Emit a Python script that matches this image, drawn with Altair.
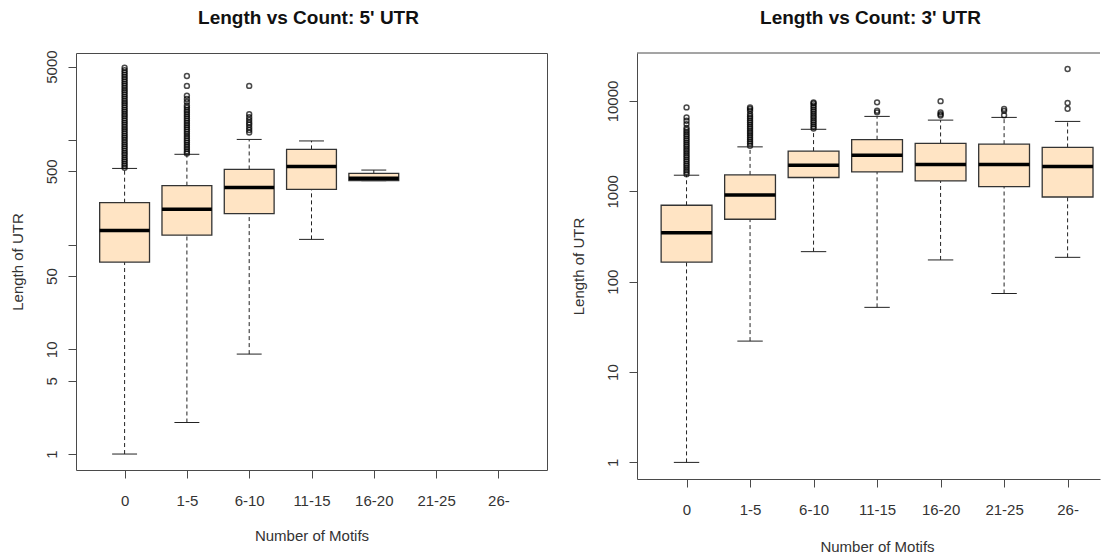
import altair as alt
import pandas as pd

categories = ["0", "1-5", "6-10", "11-15", "16-20", "21-25", "26-"]

# ---- 5' UTR box statistics ----
utr5_groups = ["0", "1-5", "6-10", "11-15", "16-20"]
utr5_lower = [1, 2, 9, 112, 407]
utr5_q1 = [68, 123, 197, 336, 407]
utr5_median = [136, 217, 351, 557, 430]
utr5_q3 = [251, 365, 521, 810, 477]
utr5_upper = [533, 727, 1008, 975, 514]

utr5_out_0 = [540, 565, 590, 620, 650, 680, 715, 750, 785, 825, 865, 905, 950, 995,
              1045, 1095, 1150, 1205, 1265, 1325, 1390, 1460, 1530, 1605, 1685, 1765,
              1850, 1940, 2035, 2135, 2240, 2350, 2465, 2585, 2710, 2840, 2980, 3125,
              3280, 3440, 3610, 3790, 3980, 4180, 4390, 4620, 4880]
utr5_out_1 = [740, 775, 815, 855, 895, 940, 985, 1035, 1085, 1140, 1195, 1255, 1315,
              1380, 1450, 1520, 1595, 1675, 1755, 1840, 1930, 2030, 2130, 2300, 2450,
              2630, 3270, 4070]
utr5_out_2 = [1175, 1240, 1312, 1390, 1462, 1550, 1640, 1757, 3270]

# ---- 3' UTR box statistics ----
utr3_groups = ["0", "1-5", "6-10", "11-15", "16-20", "21-25", "26-"]
utr3_lower = [1, 22, 215, 52, 174, 74, 186]
utr3_q1 = [165, 491, 1422, 1641, 1304, 1125, 866]
utr3_median = [349, 912, 1946, 2512, 1983, 1983, 1884]
utr3_q3 = [701, 1520, 2786, 3730, 3390, 3327, 3058]
utr3_upper = [1508, 3105, 4860, 6750, 6140, 6580, 5940]

utr3_out_0 = [1550, 1635, 1725, 1820, 1920, 2025, 2135, 2255, 2380, 2510, 2650, 2795,
              2950, 3110, 3280, 3460, 3650, 3850, 4065, 4290, 4525, 4775, 5040, 5550,
              6040, 6580, 8490]
utr3_out_1 = [3200, 3380, 3565, 3760, 3970, 4190, 4420, 4660, 4920, 5190, 5475, 5775,
              6095, 6430, 6785, 7160, 7770, 8170, 8490]
utr3_out_2 = [4950, 5220, 5510, 5810, 6130, 6470, 6830, 7200, 7600, 8020, 8460, 8920,
              9410, 9660]
utr3_out_3 = [7480, 7790, 9660]
utr3_out_4 = [6900, 7150, 7480, 9950]
utr3_out_5 = [6950, 7780, 8170]
utr3_out_6 = [8200, 9500, 22600]

left_ticks = [1, 5, 10, 50, 100, 500, 1000, 5000]
left_hidden = [100, 1000]
right_ticks = [1, 10, 100, 1000, 10000]

FONT = "Liberation Sans"
LINE = "#4a4a4a"
TEXT = "#333333"


def box_frame(groups, lower, q1, med, q3, upper):
    df = pd.DataFrame({"group": groups, "lower": lower, "q1": q1,
                       "median": med, "q3": q3, "upper": upper})
    df["idx"] = [categories.index(g) for g in groups]
    return df


def out_frame(lists):
    rows = []
    for g, vals in lists:
        for v in vals:
            rows.append({"group": g, "idx": categories.index(g), "value": v})
    return pd.DataFrame(rows)


box5 = box_frame(utr5_groups, utr5_lower, utr5_q1, utr5_median, utr5_q3, utr5_upper)
box3 = box_frame(utr3_groups, utr3_lower, utr3_q1, utr3_median, utr3_q3, utr3_upper)
out5 = out_frame([("0", utr5_out_0), ("1-5", utr5_out_1), ("6-10", utr5_out_2)])
out3 = out_frame([("0", utr3_out_0), ("1-5", utr3_out_1), ("6-10", utr3_out_2),
                  ("11-15", utr3_out_3), ("16-20", utr3_out_4), ("21-25", utr3_out_5),
                  ("26-", utr3_out_6)])

label_expr = "[" + ",".join("'%s'" % c for c in categories) + "][datum.value]"


def panel(box_df, out_df, title, ydomain, yticks, yhidden, width, height,
          xdomain, title_dx, title_offset, xtitle_x, xtitle_y, framed):
    xscale = alt.Scale(domain=xdomain, nice=False, zero=False)
    yscale = alt.Scale(type="log", domain=ydomain, nice=False)
    hide = " || ".join("datum.value == %d" % v for v in yhidden) if yhidden else "false"
    xaxis = alt.Axis(values=list(range(len(categories))), labelExpr=label_expr,
                     title="Number of Motifs", domain=not framed, domainColor=LINE,
                     titleX=xtitle_x, titleY=xtitle_y, titleBaseline="middle",
                     titleAnchor="middle", labelPadding=15, tickSize=8)
    yaxis = alt.Axis(values=yticks, format="d",
                     labelExpr="(%s) ? '' : datum.label" % hide,
                     title="Length of UTR", domain=not framed, domainColor=LINE,
                     labelAngle=270, labelAlign="center", labelBaseline="bottom",
                     labelPadding=9, tickSize=8, titleAngle=270,
                     titleBaseline="middle", titleX=-59, titleY=height / 2)

    def X(f):
        return alt.X(f, type="quantitative", scale=xscale, axis=xaxis)

    def Y(f):
        return alt.Y(f, type="quantitative", scale=yscale, axis=yaxis)

    base = alt.Chart(box_df).transform_calculate(
        lo="datum.idx - 0.4", hi="datum.idx + 0.4",
        clo="datum.idx - 0.2", chi="datum.idx + 0.2")

    whisk_up = base.mark_rule(color="#222", strokeWidth=1, strokeDash=[4, 3]).encode(
        x=X("idx"), y=Y("q3"), y2="upper:Q")
    whisk_lo = base.mark_rule(color="#222", strokeWidth=1, strokeDash=[4, 3]).encode(
        x=X("idx"), y=Y("lower"), y2="q1:Q")
    cap_up = base.mark_rule(color="#222", strokeWidth=1).encode(
        x=X("clo"), x2="chi:Q", y=Y("upper"))
    cap_lo = base.mark_rule(color="#222", strokeWidth=1).encode(
        x=X("clo"), x2="chi:Q", y=Y("lower"))
    box = base.mark_rect(fill="#FFE4C4", stroke="#333333", strokeWidth=1.3).encode(
        x=X("lo"), x2="hi:Q", y=Y("q1"), y2="q3:Q")
    med = base.mark_rule(color="#000", strokeWidth=3.5).encode(
        x=X("lo"), x2="hi:Q", y=Y("median"))
    pts = alt.Chart(out_df).mark_point(shape="circle", filled=False, size=24,
                                       strokeWidth=1.5, color="#000").encode(
        x=X("idx"), y=Y("value"))

    layers = [whisk_up, whisk_lo, cap_up, cap_lo, box, med, pts]
    if not framed:
        top = alt.Chart(pd.DataFrame({"k": [0]})).mark_rule(color=LINE, strokeWidth=1).encode(
            x=alt.value(0), x2=alt.value(width), y=alt.value(0))
        layers.append(top)

    props = dict(width=width, height=height,
                 title=alt.TitleParams(title, fontSize=19, fontWeight="bold", font=FONT,
                                       color="#111", frame="group", dx=title_dx,
                                       offset=title_offset))
    if not framed:
        props["view"] = alt.ViewBackground(stroke="transparent")
    return alt.layer(*layers).properties(**props)


left = panel(box5, out5, "Length vs Count: 5' UTR", [0.704, 6740], left_ticks, left_hidden,
             471, 417, [-0.78, 6.78], -3, 22, 235.5, 65, True)
right = panel(box3, out3, "Length vs Count: 3' UTR", [0.655, 33960], right_ticks, [],
              463, 426, [-0.78, 6.51], 2, 25, 240, 67, False)

chart = alt.hconcat(left, right, spacing=22).properties(
    padding={"left": 1, "top": 0, "right": 0, "bottom": 0}
).configure_view(stroke=LINE, strokeWidth=1).configure_axis(
    grid=False, labelFont=FONT, labelFontSize=15, labelColor=TEXT,
    tickColor=LINE, titleFont=FONT, titleFontSize=15, titleFontWeight="normal",
    titleColor=TEXT
)

chart.save("out.html", embed_options={"renderer": "svg", "actions": False})
